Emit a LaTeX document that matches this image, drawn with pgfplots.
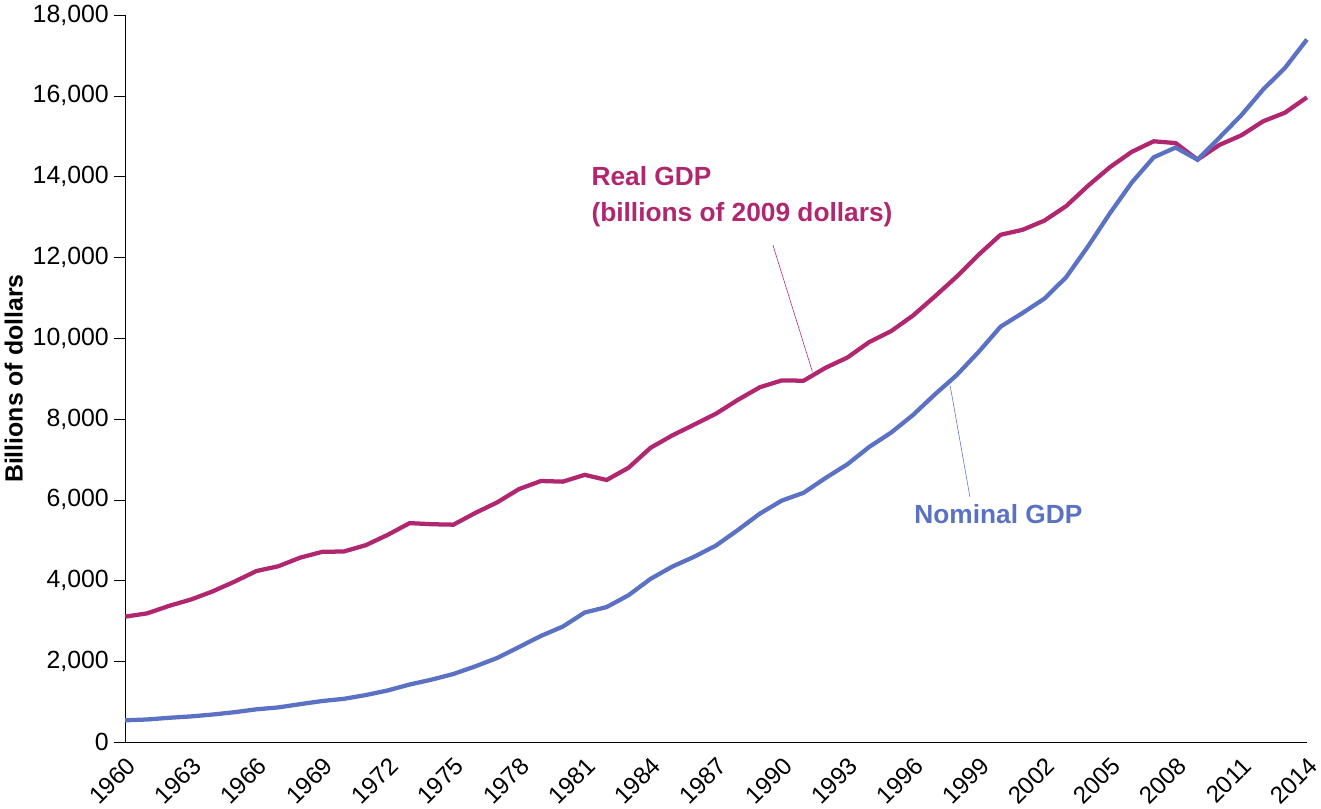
\documentclass[border=0pt]{standalone}
\usepackage{pgfplots}
\pgfplotsset{compat=1.18}
\usepackage{fontspec}
\setmainfont{Liberation Sans}
\definecolor{realc}{HTML}{B0276F}
\definecolor{nomc}{HTML}{5B72C4}
\begin{document}
\begin{tikzpicture}
\begin{axis}[scale only axis, width=832pt, height=512pt,
 xmin=1960, xmax=2014, ymin=0, ymax=18000,
 axis x line*=bottom, axis y line*=left,
 scaled y ticks=false,
 xtick={1960,1963,...,2014}, ytick={0,2000,...,18000},
 x tick label style={rotate=45, anchor=north east, font=\fontsize{17}{19}\selectfont, /pgf/number format/1000 sep={}, inner sep=1pt},
 y tick label style={font=\fontsize{17.5}{20}\selectfont, /pgf/number format/1000 sep={,}},
 /pgf/number format/assume math mode=true,
 tick align=outside, xtick style={draw=none}, ytick style={black, thin},
 major tick length=8pt,
 ylabel={\bfseries Billions of dollars}, ylabel style={font=\fontsize{17.5}{20}\selectfont},
 clip=false]
\addplot[realc, line width=3pt] coordinates {(1960,3109)(1961,3189)(1962,3374)(1963,3531)(1964,3734)(1965,3976)(1966,4238)(1967,4356)(1968,4569)(1969,4712)(1970,4722)(1971,4878)(1972,5134)(1973,5424)(1974,5396)(1975,5385)(1976,5675)(1977,5937)(1978,6267)(1979,6466)(1980,6450)(1981,6618)(1982,6491)(1983,6792)(1984,7285)(1985,7594)(1986,7861)(1987,8133)(1988,8475)(1989,8786)(1990,8955)(1991,8948)(1992,9267)(1993,9521)(1994,9905)(1995,10175)(1996,10561)(1997,11035)(1998,11526)(1999,12066)(2000,12560)(2001,12682)(2002,12909)(2003,13271)(2004,13774)(2005,14234)(2006,14614)(2007,14874)(2008,14830)(2009,14419)(2010,14784)(2011,15021)(2012,15369)(2013,15583)(2014,15962)};
\addplot[nomc, line width=3pt] coordinates {(1960,543)(1961,563)(1962,605)(1963,639)(1964,686)(1965,744)(1966,815)(1967,862)(1968,943)(1969,1020)(1970,1075)(1971,1168)(1972,1282)(1973,1429)(1974,1549)(1975,1689)(1976,1878)(1977,2086)(1978,2357)(1979,2632)(1980,2863)(1981,3211)(1982,3345)(1983,3638)(1984,4041)(1985,4347)(1986,4590)(1987,4870)(1988,5253)(1989,5658)(1990,5980)(1991,6174)(1992,6539)(1993,6879)(1994,7309)(1995,7664)(1996,8100)(1997,8609)(1998,9089)(1999,9661)(2000,10285)(2001,10622)(2002,10978)(2003,11511)(2004,12275)(2005,13094)(2006,13856)(2007,14478)(2008,14719)(2009,14419)(2010,14964)(2011,15518)(2012,16155)(2013,16692)(2014,17393)};
\node[anchor=north west, align=left, text=realc, font=\fontsize{18.5}{25}\selectfont\bfseries, inner sep=0pt] at (axis cs:1981.3,14250) {Real GDP\\(billions of 2009 dollars)};
\draw[realc, thin] (axis cs:1989.6,12305) -- (axis cs:1991.4,9178);
\node[text=nomc, font=\fontsize{18.5}{20}\selectfont\bfseries] at (axis cs:1999.9,5644) {Nominal GDP};
\draw[nomc, thin] (axis cs:1998.6,6076) -- (axis cs:1997.7,8822);
\end{axis}
\end{tikzpicture}
\end{document}
